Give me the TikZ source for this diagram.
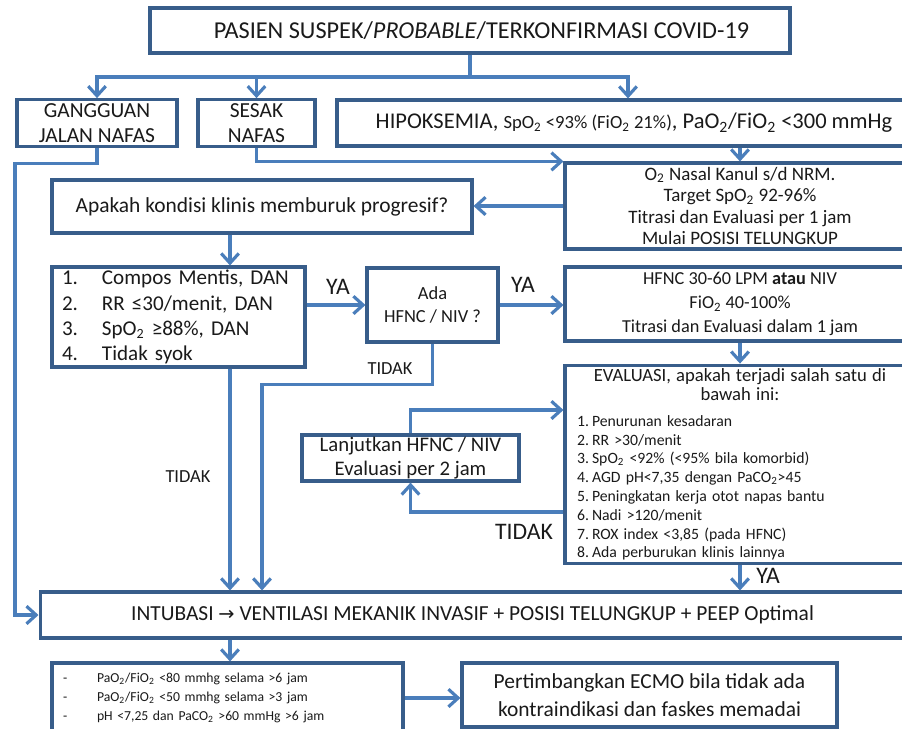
\documentclass[tikz,border=0pt]{standalone}
\usepackage{fontspec}
\setmainfont{Carlito}
\newfontfamily\symfont{DejaVu Sans}
\usetikzlibrary{positioning, arrows.meta}
\definecolor{boxblue}{HTML}{385D8A}
\definecolor{lineblue}{HTML}{4A7EBB}
\definecolor{ink}{HTML}{1A1A1A}
\newcommand{\two}{\textsubscript{2}}
\newcommand{\fsz}[2]{\fontsize{#1}{#2}\selectfont}

\begin{document}
\begin{tikzpicture}[x=0.02cm, y=-0.02cm,
  box/.style={draw=boxblue, line width=1.8pt, fill=white, inner sep=2pt,
              align=center, text=ink, font=\fsz{12.2}{14.5}},
  flow/.style={-{Straight Barb[length=5.5pt, width=10pt]}, line width=1.8pt, lineblue},
  link/.style={line width=1.8pt, lineblue},
  lbl/.style={text=ink, inner sep=1pt, font=\fsz{13.5}{15}}]
  \useasboundingbox (0,0) rectangle (902,728);
  % Columns and bends
  \coordinate (split) at (470,77);
  \coordinate (lft) at (15,615);
  \coordinate (colA) at (230,0);
  \coordinate (colB) at (262,0);
  % Top row
  \node[box, minimum width=12.8cm, minimum height=0.9cm, font=\fsz{13.8}{16}] (pasien) at (470,30.5)
    {\hspace*{0.46cm}PASIEN SUSPEK/\textit{PROBABLE}/TERKONFIRMASI COVID-19};
  \node[box, minimum width=3.2cm, minimum height=0.92cm] (jalan) at (97,123)
    {GANGGUAN\\JALAN NAFAS};
  \node[box, minimum width=2.34cm, minimum height=0.92cm] (sesak) at (256.5,123)
    {SESAK\\NAFAS};
  \node[box, minimum width=11.64cm, minimum height=0.92cm, font=\fsz{12.8}{15}] (hipoks) at (628,123)
    {\hspace*{0.24cm}HIPOKSEMIA, {\fsz{10.6}{12}SpO\two{} <93\% (FiO\two{} 21\%)}, PaO\two/FiO\two{} <300 mmHg};
  % Oxygen and assessment
  \node[box, minimum width=7cm, minimum height=1.72cm, inner ysep=0pt, font=\fsz{10.8}{12.3}] (oksigen) at (740,206)
    {O\two{} Nasal Kanul s/d NRM.\\Target SpO\two{} 92-96\%\\Titrasi dan Evaluasi per 1 jam\\Mulai POSISI TELUNGKUP};
  \node[box, minimum width=8.4cm, minimum height=1.06cm] (memburuk) at (262,206.5)
    {Apakah kondisi klinis memburuk progresif?};
  \node[box, minimum width=5.06cm, minimum height=2cm, inner xsep=5.5pt, inner ysep=0pt,
        text width=4.66cm, align=left, font=\fsz{12}{14.3}] (kriteria) at (178.5,317)
    {\makebox[0.8cm][l]{1.}Compos Mentis, DAN\\
     \makebox[0.8cm][l]{2.}RR ≤30/menit, DAN\\
     \makebox[0.8cm][l]{3.}SpO\two{} ≥88\%, DAN\\
     \makebox[0.8cm][l]{4.}Tidak syok};
  \node[box, minimum width=2.62cm, minimum height=1.48cm, font=\fsz{10.5}{13}] (ada) at (432.5,305)
    {Ada\\HFNC / NIV ?};
  \node[box, minimum width=7cm, minimum height=1.48cm, font=\fsz{10.4}{13.5}] (hfnc) at (740,304)
    {HFNC 30-60 LPM \textbf{atau} NIV\\FiO\two{} 40-100\%\\Titrasi dan Evaluasi dalam 1 jam};
  \node[box, minimum width=7cm, minimum height=3.9cm, inner xsep=0pt, text width=6.52cm,
        align=left, font=\fsz{8.95}{10.7}] (evaluasi) at (740,464.5)
    {\makebox[6.52cm][c]{\fsz{10.6}{11}EVALUASI, apakah terjadi salah satu di}\\
     \makebox[6.52cm][c]{\fsz{10.6}{11}bawah ini:}\\[4pt]
     \makebox[0.3cm][l]{1.}Penurunan kesadaran\\
     \makebox[0.3cm][l]{2.}RR >30/menit\\
     \makebox[0.3cm][l]{3.}SpO\two{} <92\% (<95\% bila komorbid)\\
     \makebox[0.3cm][l]{4.}AGD pH<7,35 dengan PaCO\two>45\\
     \makebox[0.3cm][l]{5.}Peningkatan kerja otot napas bantu\\
     \makebox[0.3cm][l]{6.}Nadi >120/menit\\
     \makebox[0.3cm][l]{7.}ROX index <3,85 (pada HFNC)\\
     \makebox[0.3cm][l]{8.}Ada perburukan klinis lainnya};
  \node[box, minimum width=4.34cm, minimum height=0.92cm, inner sep=0pt, font=\fsz{11.8}{13.6}] (lanjut) at (410.5,458)
    {Lanjutkan HFNC / NIV\\Evaluasi per 2 jam};
  % Bottom row
  \node[box, minimum width=17.3cm, minimum height=0.92cm] (intubasi) at (472.5,615)
    {INTUBASI {\symfont\fsz{11}{14}→} VENTILASI MEKANIK INVASIF + POSISI TELUNGKUP + PEEP Optimal};
  \node[box, minimum width=7.02cm, minimum height=1.4cm, inner xsep=0pt, text width=6.58cm,
        align=left, font=\fsz{7.8}{10.8}] (ecmokrit) at (227.5,698)
    {\makebox[0.68cm][l]{-}PaO\two/FiO\two{} <80 mmhg selama >6 jam\\
     \makebox[0.68cm][l]{-}PaO\two/FiO\two{} <50 mmhg selama >3 jam\\
     \makebox[0.68cm][l]{-}pH <7,25 dan PaCO\two{} >60 mmHg >6 jam};
  \node[box, minimum width=7.5cm, minimum height=1.28cm, font=\fsz{12.2}{16}] (ecmo) at (649.5,695)
    {Pertimbangkan ECMO bila tidak ada\\kontraindikasi dan faskes memadai};
  % Labels
  \node[lbl] (ya1) at (338,287) {YA};
  \node[lbl] (ya2) at (523,285) {YA};
  \node[lbl, font=\fsz{10.5}{12}] (tidak1) at (390,369) {TIDAK};
  \node[lbl, font=\fsz{10.5}{12}] (tidak2) at (188,477) {TIDAK};
  \node[lbl] (tidak3) at (524,532) {TIDAK};
  \node[lbl] (ya3) at (768,576) {YA};
  % Connectors
  \draw[link] (pasien.south) -- (split);
  \draw[flow] (split) -| (jalan.north);
  \draw[flow] (split) -| (sesak.north);
  \draw[flow] (split) -| (hipoks.north);
  \draw[flow] (jalan.south) -- ++(0,16) -| (lft) -- (intubasi.west);
  \draw[flow] (sesak.south) |- (oksigen.north west);
  \draw[flow] (hipoks.south -| oksigen.north) -- (oksigen.north);
  \draw[flow] (oksigen.west) -- (oksigen.west -| memburuk.east);
  \draw[flow] (memburuk.south -| colA) -- (kriteria.north -| colA);
  \draw[flow] (kriteria.east |- ada.west) -- (ada.west);
  \draw[flow] (ada.east) -- (ada.east -| hfnc.west);
  \draw[flow] (hfnc.south) -- (evaluasi.north);
  \draw[flow] (ada.south) -- ++(0,41) -| (intubasi.north -| colB);
  \draw[flow] (kriteria.south -| colA) -- (intubasi.north -| colA);
  \draw[flow] (lanjut.north) |- ([yshift=1.09cm]evaluasi.west);
  \draw[flow] ([yshift=-0.95cm]evaluasi.west) -| (lanjut.south);
  \draw[flow] (evaluasi.south) -- (intubasi.north -| evaluasi.south);
  \draw[flow] (intubasi.south -| colA) -- (ecmokrit.north -| colA);
  \draw[flow] (ecmokrit.east) -- (ecmokrit.east -| ecmo.west);
\end{tikzpicture}
\end{document}
